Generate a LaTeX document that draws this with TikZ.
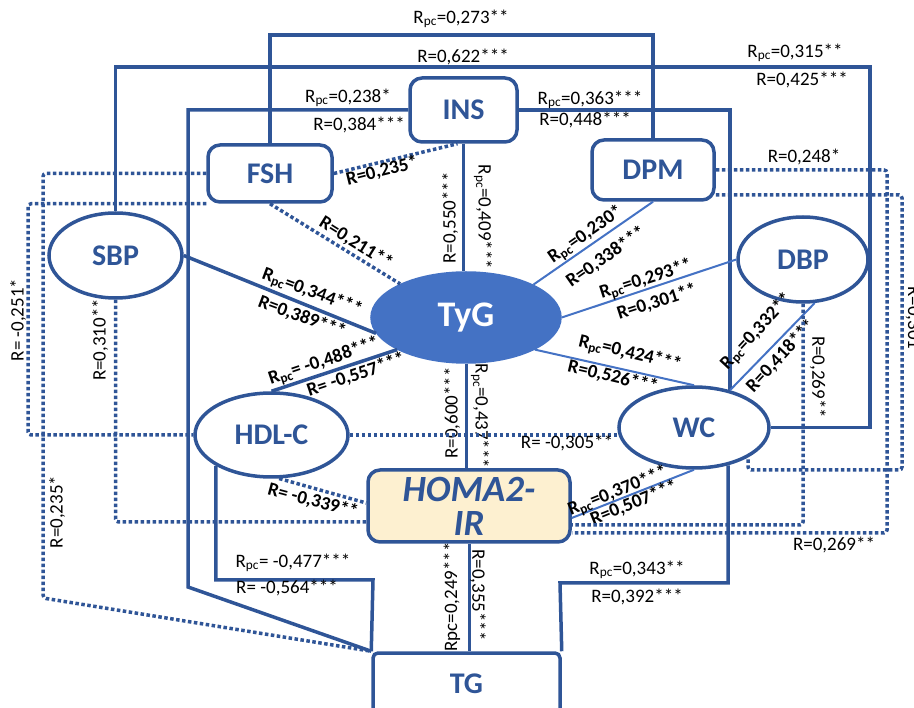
\documentclass[tikz,border=0pt]{standalone}
\usepackage{fontspec}
\setmainfont{Carlito}
\usetikzlibrary{shapes.geometric}

\definecolor{lineblue}{RGB}{47,85,151}
\definecolor{tygblue}{RGB}{68,114,196}
\definecolor{homafill}{RGB}{253,240,208}

\newcommand{\Rpc}{R\textsubscript{pc}}

\tikzset{
    box/.style={draw=lineblue, line width=3.5pt, rounded corners=12pt, inner sep=0pt,
        text=lineblue, font=\fontsize{30}{30}\selectfont\bfseries},
    oval/.style={ellipse, draw=lineblue, line width=3.5pt, inner sep=0pt,
        text=lineblue, font=\fontsize{30}{30}\selectfont\bfseries},
    link/.style={lineblue, line width=3.5pt},
    thinlink/.style={tygblue, line width=2pt},
    dotlink/.style={lineblue, line width=3.5pt, dash pattern=on 3.5pt off 2.5pt, rounded corners=3pt},
    lbl/.style={font=\fontsize{19}{21}\selectfont, inner sep=0pt},
    blbl/.style={font=\fontsize{19}{21}\selectfont\bfseries, inner sep=0pt}
}

\begin{document}
\begin{tikzpicture}[x=1pt, y=-1pt]
        \useasboundingbox (0,0) rectangle (914,708);

        % Variables
        \node[box, minimum width=107pt, minimum height=64pt] (INS) at (463.5,110) {INS};
        \node[box, minimum width=124pt, minimum height=57pt] (FSH) at (270,173.5) {FSH};
        \node[box, minimum width=122pt, minimum height=60pt] (DPM) at (653,170) {DPM};
        \node[oval, minimum width=133pt, minimum height=85pt] (SBP) at (115.5,255.5) {SBP};
        \node[oval, minimum width=130pt, minimum height=85pt] (DBP) at (803,259.5) {DBP};
        \node[oval, fill=tygblue, draw=tygblue, text=white, minimum width=188pt, minimum height=89pt,
            font=\fontsize{36}{36}\selectfont\bfseries] (TyG) at (466,317.5) {TyG};
        \node[oval, minimum width=153pt, minimum height=84pt] (HDL) at (271.5,435) {HDL-C};
        \node[oval, minimum width=150pt, minimum height=81pt] (WC) at (694,427.5) {WC};
        \node[box, fill=homafill, minimum width=202pt, minimum height=72pt, align=center,
            font=\fontsize{37}{34}\selectfont\bfseries\itshape] (HOMA) at (469,506) {HOMA2-\\IR};
        \node[box, rounded corners=5pt, minimum width=187pt, minimum height=62pt] (TG) at (466.5,684) {TG};

        % Routed solid links
        \draw[link] (FSH.north) -- ++(0,-108) -| (DPM.north);
        \node[lbl] (l1) at (461,19) {\Rpc=0,273**};
        \node[lbl] (l2) at (463,57) {R=0,622***};

        \draw[link] (SBP.north) |- (870,67) |- (WC.east);
        \node[lbl] (l3) at (795,53) {\Rpc=0,315**};
        \node[lbl] (l4) at (802,80) {R=0,425***};

        \draw[link] (INS.west) -| (188,587) -- (TG.north west);
        \node[lbl] (l5) at (348,98) {\Rpc=0,238*};
        \node[lbl] (l6) at (359,125) {R=0,384***};

        \draw[link] (INS.east) -| (WC.46);
        \node[lbl] (l7) at (590,100) {\Rpc=0,363***};
        \node[lbl] (l8) at (585,120) {R=0,448***};

        \draw[link] (HDL.209) |- (373,580) -- (TG.north west);
        \node[lbl] (l9) at (293,563) {\Rpc= -0,477***};
        \node[lbl] (l10) at (287,588) {R= -0,564***};

        \draw[link] (WC.-48) |- (560,583) -- (TG.north east);
        \node[lbl] (l11) at (637,570) {\Rpc=0,343**};
        \node[lbl] (l12) at (637,597) {R=0,392***};

        % Vertical links through TyG
        \draw[link, line width=3pt] (INS.south) -- (INS.south |- TyG.north);
        \node[lbl, rotate=90] (l13) at (450,218) {R=0,550***};
        \node[lbl, rotate=-90] (l14) at (483,217) {\Rpc=0,409***};

        \draw[link, line width=3pt] (TyG.south) -- (TyG.south |- HOMA.north);
        \node[lbl, rotate=90] (l15) at (452,413) {R=0,600***};
        \node[lbl, rotate=-90] (l16) at (480,416) {\Rpc=0,437***};

        \draw[link, line width=3pt] (HOMA.south) -- (HOMA.south |- TG.north);
        \node[lbl, rotate=90] (l17) at (452,597) {Rpc=0,249***};
        \node[lbl, rotate=-90] (l18) at (478,595) {R=0,355***};

        % Diagonal links
        \draw[link] (SBP.east) -- (TyG.190);
        \node[blbl, rotate=-20.5] (l19) at (312,293) {\Rpc=0,344***};
        \node[blbl, rotate=-20.5] (l20) at (302,317) {R=0,389***};

        \draw[link] (HDL.north) -- (TyG.205);
        \node[blbl, rotate=18.6] (l21) at (324,362) {\Rpc= -0,488***};
        \node[blbl, rotate=18.6] (l22) at (356,375) {R= -0,557***};

        \draw[thinlink] (DPM.south) -- (TyG.26);
        \node[blbl, rotate=35] (l23) at (586,235) {\Rpc=0,230*};
        \node[blbl, rotate=35] (l24) at (606,257) {R=0,338***};

        \draw[thinlink] (DBP.west) -- (TyG.east);
        \node[blbl, rotate=17.8] (l25) at (646,280) {\Rpc=0,293**};
        \node[blbl, rotate=17.8] (l26) at (657,302) {R=0,301**};

        \draw[thinlink] (TyG.-25) -- (WC.north);
        \node[blbl, rotate=-13.3] (l27) at (630,354) {\Rpc=0,424***};
        \node[blbl, rotate=-13.3] (l28) at (613,377) {R=0,526***};

        \draw[thinlink] (DBP.-75) -- (WC.46);
        \node[blbl, rotate=47] (l29) at (757,332) {\Rpc=0,332**};
        \node[blbl, rotate=47] (l30) at (781,356) {R=0,418***};

        \draw[thinlink] ([yshift=-12pt]HOMA.east) -- (WC.south);
        \node[blbl, rotate=22] (l31) at (618,492) {\Rpc=0,370***};
        \node[blbl, rotate=22] (l32) at (634,503) {R=0,507***};

        % Dotted links
        \draw[dotlink] (FSH.east) -- ([xshift=-6pt]INS.south);
        \node[blbl, rotate=14] (l33) at (382,171) {R=0,235*};

        \draw[dotlink] (FSH.south) -- (TyG.153);
        \node[blbl, rotate=-32] (l34) at (356,243) {R=0,211**};

        \draw[dotlink] (FSH.west) -| (43,598) -- (TG.north west);
        \node[lbl, rotate=90] (l35) at (57,512) {R=0,235*};

        \draw[dotlink] (FSH.south west) -| (28,435) -- (HDL.west);
        \node[lbl, rotate=90] (l36) at (18,320) {R= -0,251*};

        \draw[dotlink] (SBP.south) |- ([yshift=-16pt]HOMA.west);
        \node[lbl, rotate=90] (l37) at (100,340) {R=0,310**};

        \draw[dotlink] (HDL.-80) -- ([yshift=3pt]HOMA.west);
        \node[blbl, rotate=-15] (l38) at (313,501) {R= -0,339**};

        \draw[dotlink] (HDL.east) -- (HDL.east -| WC.west);
        \node[lbl] (l39) at (567,443) {R= -0,305**};

        \draw[dotlink] (DPM.east) -| (887,533) -- ([yshift=-27pt]HOMA.east);
        \node[lbl] (l40) at (804,157) {R=0,248*};
        \node[lbl] (l41) at (834,545) {R=0,269**};

        \draw[dotlink] ([yshift=-25pt]DPM.east) -| (902,470) -| (WC.-29);
        \node[lbl, rotate=-90] (l42) at (913,318) {R=0,301};

        \draw[dotlink] (DBP.south) |- ([yshift=-19pt]HOMA.east);
        \node[lbl, rotate=-90] (l43) at (818,377) {R=0,269**};

\end{tikzpicture}
\end{document}
